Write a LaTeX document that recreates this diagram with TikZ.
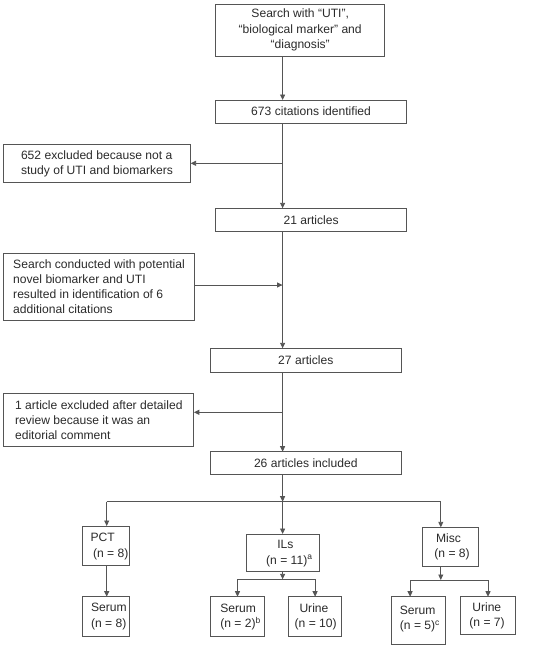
\documentclass[tikz,border=0pt]{standalone}
\usepackage{fontspec}
\setmainfont{Liberation Sans}
\usetikzlibrary{arrows.meta}
\definecolor{ln}{HTML}{555555}
\definecolor{tx}{HTML}{2A2A2A}
\tikzset{
  every node/.style={font=\fontsize{12.1}{15.2}\selectfont, text=tx},
  box/.style={draw=ln, line width=0.9pt, inner sep=0pt, outer sep=0pt},
  boxl/.style={box, align=left},
  boxc/.style={box, align=center},
  txt/.style={inner sep=0pt, align=left, anchor=west},
  conn/.style={draw=ln, line width=0.9pt},
  arr/.style={conn, -{Triangle[length=5.5pt,width=5pt]}}
}
\begin{document}
\begin{tikzpicture}[x=1pt,y=-1pt]
\useasboundingbox (0,0) rectangle (551,649);
\coordinate (sp) at (282.6,0);
% main column
\node[boxc, minimum width=169.1pt, minimum height=52pt] (T) at (300.2,30)
  {Search with “UTI”,\\“biological marker” and\\“diagnosis”};
\node[boxc, minimum width=191pt, minimum height=23pt] (C673) at (311.1,111.5) {673 citations identified};
\node[boxl, minimum width=187.3pt, minimum height=38.4pt] (E652) at (97,163.5)
  {652 excluded because not a\\study of UTI and biomarkers};
\node[boxc, minimum width=191pt, minimum height=23.4pt] (A21) at (311.1,220) {21 articles};
\node[boxl, minimum width=191.4pt, minimum height=66.7pt] (S) at (99,286.65)
  {Search conducted with potential\\novel biomarker and UTI\\resulted in identification of 6\\additional citations};
\node[boxc, minimum width=191.7pt, minimum height=24pt] (A27) at (305.8,360.3) {27 articles};
\node[boxl, minimum width=190pt, minimum height=53.4pt] (X1) at (98.8,420)
  {1 article excluded after detailed\\review because it was an\\editorial comment};
\node[boxc, minimum width=191.7pt, minimum height=22.3pt] (A26) at (305.8,462.85) {26 articles included};
% second level boxes
\node[box, minimum width=46.8pt, minimum height=39pt] (PCT) at (105.8,545.5) {};
\node[box, minimum width=73.2pt, minimum height=37pt] (ILs) at (282.6,552.5) {};
\node[box, minimum width=55.8pt, minimum height=38.7pt] (Misc) at (450.3,546.65) {};
% third level boxes
\node[box, minimum width=47.5pt, minimum height=39.3pt] (SP) at (106.1,616.35) {};
\node[box, minimum width=53.8pt, minimum height=40pt] (SI) at (237.5,616.7) {};
\node[box, minimum width=52.5pt, minimum height=40pt] (UI) at (315.1,616.7) {};
\node[box, minimum width=54.2pt, minimum height=47.3pt] (SM) at (418.5,620.35) {};
\node[box, minimum width=55pt, minimum height=37.3pt] (UM) at (487.5,615.35) {};
% texts of small boxes
\node[txt] (tPCT) at (90.3,546.5) {PCT\\\hspace*{2.6pt}(n = 8)};
\node[txt] (tILs) at (266,553.5) {\hspace*{11.1pt}ILs\\(n = 11)\textsuperscript{a}};
\node[txt] (tMisc) at (434.2,546.7) {\hspace*{1.6pt}Misc\\(n = 8)};
\node[txt] (tSP) at (90.9,616.5) {Serum\\(n = 8)};
\node[txt] (tSI) at (220.1,617) {Serum\\(n = 2)\textsuperscript{b}};
\node[txt] (tUI) at (294.5,617) {\hspace*{4.8pt}Urine\\(n = 10)};
\node[txt] (tSM) at (399.7,619) {Serum\\(n = 5)\textsuperscript{c}};
\node[txt] (tUM) at (469.2,616) {\hspace*{2.9pt}Urine\\(n = 7)};
% junction coordinates
\coordinate (j1) at (282.6,163.3);
\coordinate (j2) at (282.6,285);
\coordinate (j3) at (282.6,412.3);
\coordinate (j4) at (282.6,501.7);
\coordinate (jp) at (106.7,501.7);
\coordinate (jm) at (440.8,501.7);
\coordinate (jI) at (282.6,579.3);
\coordinate (iL) at (237.5,579.3);
\coordinate (iR) at (315.1,579.3);
\coordinate (jM) at (440.8,580);
\coordinate (mL) at (410.1,580);
\coordinate (mR) at (488,580);
% connectors
\draw[arr] (T.south -| sp) -- (C673.north -| sp);
\draw[arr] (C673.south -| sp) -- (A21.north -| sp);
\draw[arr] (j1) -- (j1 -| E652.east);
\draw[arr] (j2 -| S.east) -- (j2);
\draw[arr] (A21.south -| sp) -- (A27.north -| sp);
\draw[arr] (A27.south -| sp) -- (A26.north -| sp);
\draw[arr] (j3) -- (j3 -| X1.east);
\draw[arr] (A26.south -| sp) -- (j4);
\draw[conn] (jp) -- (jm);
\draw[arr] (j4) -- (ILs.north);
\draw[arr] (jp) -- (jp |- PCT.north);
\draw[arr] (jm) -- (jm |- Misc.north);
\draw[arr] (jp |- PCT.south) -- (jp |- SP.north);
\draw[arr] (ILs.south) -- (jI);
\draw[conn] (iL) -- (iR);
\draw[arr] (iL) -- (iL |- SI.north);
\draw[arr] (iR) -- (iR |- UI.north);
\draw[arr] (jm |- Misc.south) -- (jM);
\draw[conn] (mL) -- (mR);
\draw[arr] (mL) -- (mL |- SM.north);
\draw[arr] (mR) -- (mR |- UM.north);
\end{tikzpicture}
\end{document}
